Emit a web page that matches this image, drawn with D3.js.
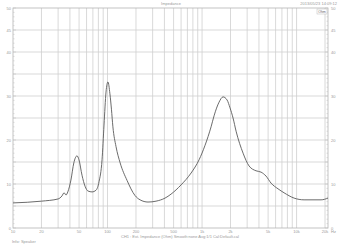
<!DOCTYPE html>
<html>
<head>
<meta charset="utf-8">
<script src="https://cdn.jsdelivr.net/npm/d3@7"></script>
<style>
  body { margin: 0; background: #fff; }
  svg { display: block; font-family: "Liberation Sans", Arial, sans-serif; }
</style>
</head>
<body>
<svg width="342" height="246"></svg>
<script>
// impedance curve (Hz, ohm)
var freqs = [10, 20, 30, 33, 34.7, 36.4, 38, 41, 44, 47.5, 49.9, 53.7, 57.8, 62.2, 68.6, 75.6, 81.3, 87.5, 91.8, 96.4, 101, 106, 110, 114, 123, 136, 161, 195, 221, 268, 326, 406, 470, 600, 766, 930, 1076, 1246, 1340, 1513, 1668, 1839, 1977, 2128, 2291, 2717, 3143, 3725, 4208, 4753, 5370, 6369, 7374, 9409, 12000, 18160, 21500];
var ohms = [5.7, 6.1, 6.6, 7.3, 8.0, 7.5, 8.2, 10.9, 14.8, 16.4, 15.5, 12.0, 9.5, 8.4, 8.2, 8.6, 10.5, 15.5, 23.4, 30.9, 33.2, 30.5, 27.0, 23.0, 18.5, 14.8, 10.8, 7.4, 6.4, 5.9, 6.1, 6.8, 7.7, 9.8, 12.5, 15.5, 18.8, 23.0, 25.5, 28.6, 29.8, 29.1, 27.3, 25.0, 22.0, 17.0, 14.1, 13.0, 12.7, 11.8, 10.2, 8.9, 8.0, 6.8, 6.4, 6.4, 6.8];

var xTickVals = [10, 20, 50, 100, 200, 500, 1000, 2000, 5000, 10000, 20000];
var xTickText = ["10", "20", "50", "100", "200", "500", "1k", "2k", "5k", "10k", "20k"];
var yTickVals = [0, 10, 20, 30, 40, 45, 50];
var yTickText = ["0", "10", "20", "30", "40", "45", "50"];

var svg = d3.select("svg"),
    pL = 13, pR = 328, pT = 8, pB = 228;

var x = d3.scaleLog().domain([10, 21500]).range([pL, pR]);
var y = d3.scaleLinear().domain([0, 50]).range([pB, pT]);

var gridColor = "#cfcfcf", textColor = "#9a9a9a";

// vertical log grid
var vlines = [];
[10, 100, 1000, 10000].forEach(function(dec) {
    for (var k = 1; k <= 9; k++) {
        var f = dec * k;
        if (f > 10 && f <= 20000) vlines.push(f);
    }
});
svg.append("g").selectAll("line")
    .data(vlines).enter().append("line")
    .attr("x1", function(d) { return x(d); })
    .attr("x2", function(d) { return x(d); })
    .attr("y1", pT).attr("y2", pB)
    .attr("stroke", gridColor).attr("stroke-width", 0.8);

// horizontal grid
svg.append("g").selectAll("line")
    .data(d3.range(5, 50, 5)).enter().append("line")
    .attr("x1", pL).attr("x2", pR)
    .attr("y1", function(d) { return y(d); })
    .attr("y2", function(d) { return y(d); })
    .attr("stroke", gridColor).attr("stroke-width", 0.8);

// frame
svg.append("rect")
    .attr("x", pL).attr("y", pT)
    .attr("width", pR - pL).attr("height", pB - pT)
    .attr("fill", "none").attr("stroke", "#b5b5b5").attr("stroke-width", 0.8);

// minor ticks on both y axes
var minor = d3.range(0, 51, 1);
svg.append("g").selectAll("line")
    .data(minor).enter().append("line")
    .attr("x1", pL).attr("x2", function(d) { return pL + (d % 5 == 0 ? 3 : 1.5); })
    .attr("y1", function(d) { return y(d); }).attr("y2", function(d) { return y(d); })
    .attr("stroke", "#c4c4c4").attr("stroke-width", 0.6);
svg.append("g").selectAll("line")
    .data(minor).enter().append("line")
    .attr("x1", pR).attr("x2", function(d) { return pR - (d % 5 == 0 ? 3 : 1.5); })
    .attr("y1", function(d) { return y(d); }).attr("y2", function(d) { return y(d); })
    .attr("stroke", "#c4c4c4").attr("stroke-width", 0.6);

// y labels left and right
svg.append("g").selectAll("text")
    .data(yTickVals).enter().append("text")
    .attr("x", pL - 2).attr("y", function(d) { return y(d) + 1.5; })
    .attr("text-anchor", "end").attr("font-size", 4).attr("fill", textColor)
    .text(function(d, i) { return yTickText[i]; });
svg.append("g").selectAll("text")
    .data(yTickVals).enter().append("text")
    .attr("x", pR + 3).attr("y", function(d) { return y(d) + 1.5; })
    .attr("text-anchor", "start").attr("font-size", 4).attr("fill", textColor)
    .text(function(d, i) { return yTickText[i]; });

// x labels
svg.append("g").selectAll("text")
    .data(xTickVals).enter().append("text")
    .attr("x", function(d) { return x(d); }).attr("y", pB + 5)
    .attr("text-anchor", "middle").attr("font-size", 4).attr("fill", textColor)
    .text(function(d, i) { return xTickText[i]; });
svg.append("text").attr("x", pR + 3).attr("y", pB + 5)
    .attr("font-size", 4).attr("fill", textColor).text("Hz");

// curve
var pts = freqs.map(function(f, i) { return [f, ohms[i]]; });
var line = d3.line()
    .x(function(d) { return x(d[0]); })
    .y(function(d) { return y(d[1]); })
    .curve(d3.curveMonotoneX);
svg.append("path")
    .datum(pts)
    .attr("d", line)
    .attr("fill", "none")
    .attr("stroke", "#5a5a5a")
    .attr("stroke-width", 0.9);

// texts
svg.append("text").attr("x", 171).attr("y", 4.5)
    .attr("text-anchor", "middle").attr("font-size", 4).attr("fill", textColor)
    .text("Impedance");
svg.append("text").attr("x", 337).attr("y", 4.5)
    .attr("text-anchor", "end").attr("font-size", 4).attr("fill", textColor)
    .text("2013/05/23 14:09:12");
svg.append("rect").attr("x", 317).attr("y", 9).attr("width", 10).attr("height", 5)
    .attr("fill", "#fff").attr("stroke", "#bbb").attr("stroke-width", 0.5);
svg.append("text").attr("x", 322).attr("y", 12.8)
    .attr("text-anchor", "middle").attr("font-size", 3.5).attr("fill", "#666")
    .text("Ohm");
svg.append("text").attr("x", 180).attr("y", 238)
    .attr("text-anchor", "middle").attr("font-size", 4).attr("fill", textColor)
    .text("CH1 : Ext. Impedance (Ohm) Smooth:none  Avg:1/1  Cal:Default.cal");
svg.append("text").attr("x", 12).attr("y", 243)
    .attr("font-size", 4).attr("fill", textColor)
    .text("Info: Speaker");
</script>
</body>
</html>
